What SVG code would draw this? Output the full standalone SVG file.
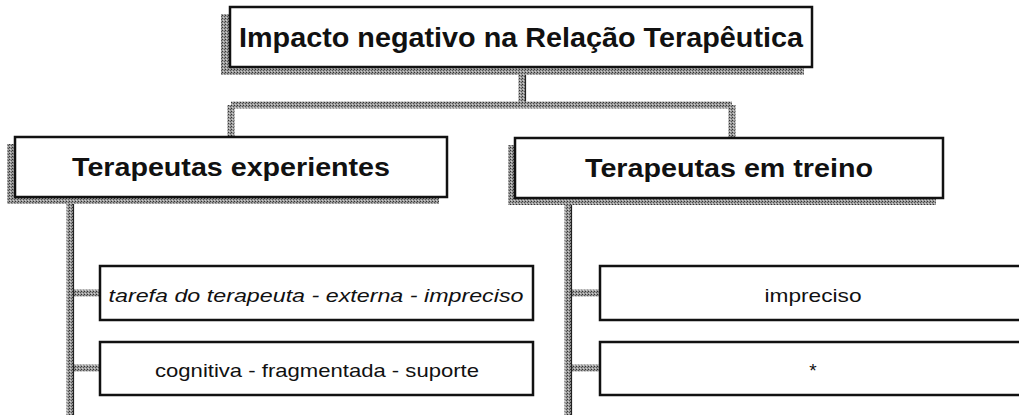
<svg xmlns="http://www.w3.org/2000/svg" width="1019" height="415" viewBox="0 0 1019 415">
<style>
.box{fill:#fff;stroke:#111;stroke-width:2.5}
.sh{fill:url(#ht)}
.t1{font-family:"Liberation Sans",Arial,sans-serif;font-weight:bold;font-size:28px;fill:#111;text-anchor:middle}
.t2{font-family:"Liberation Sans",Arial,sans-serif;font-weight:bold;font-size:26px;fill:#111;text-anchor:middle}
.t3{font-family:"Liberation Sans",Arial,sans-serif;font-size:19px;fill:#111;text-anchor:middle}
.it{font-style:italic}
.cn{stroke:url(#ht);stroke-width:7;fill:none}
.ce{stroke:#222;stroke-width:1.2;fill:none}
</style>
<defs>
<pattern id="ht" width="3" height="3" patternUnits="userSpaceOnUse">
<rect width="3" height="3" fill="#9a9a9a"/>
<rect x="0" y="0" width="1" height="1" fill="#333"/>
<rect x="2" y="1" width="1" height="1" fill="#555"/>
<rect x="1" y="2" width="1" height="1" fill="#d0d0d0"/>
</pattern>
</defs>
<g id="connectors">
<path class="cn" d="M522 68 V105 M231 105 H732 M231 105 V137 M732 105 V138"/>
<path class="cn" d="M70 204 V415 M70 293 H100 M70 368 H100"/>
<path class="cn" d="M568 205 V415 M568 293 H600 M568 368 H600"/>
<path class="ce" d="M525.5 68 V101.5 M73.5 204 V415 M571.5 205 V415"/>
</g>
<g id="n-root">
<rect class="sh" x="221" y="14" width="583" height="61"/>
<rect class="box" x="230" y="7" width="582" height="60"/>
<text class="t1" x="521" y="47" textLength="564" lengthAdjust="spacingAndGlyphs">Impacto negativo na Relação Terapêutica</text>
</g>
<g id="n-experientes">
<rect class="sh" x="7" y="144" width="432" height="60"/>
<rect class="box" x="15" y="137" width="432" height="60"/>
<text class="t2" x="231" y="176" textLength="318" lengthAdjust="spacingAndGlyphs">Terapeutas experientes</text>
</g>
<g id="n-treino">
<rect class="sh" x="508" y="145" width="428" height="60"/>
<rect class="box" x="515" y="138" width="428" height="60"/>
<text class="t2" x="729" y="177" textLength="288" lengthAdjust="spacingAndGlyphs">Terapeutas em treino</text>
</g>
<g id="n-e1">
<rect class="box" x="100" y="266" width="433" height="54"/>
<text class="t3 it" x="316" y="302" textLength="415" lengthAdjust="spacingAndGlyphs">tarefa do terapeuta - externa - impreciso</text>
</g>
<g id="n-e2">
<rect class="box" x="100" y="342" width="433" height="53"/>
<text class="t3" x="317" y="377" textLength="324" lengthAdjust="spacingAndGlyphs">cognitiva - fragmentada - suporte</text>
</g>
<g id="n-t1">
<rect class="box" x="600" y="266" width="440" height="54"/>
<text class="t3" x="813" y="302" textLength="97" lengthAdjust="spacingAndGlyphs">impreciso</text>
</g>
<g id="n-t2">
<rect class="box" x="600" y="342" width="440" height="53"/>
<text class="t3" x="813" y="377">*</text>
</g>
</svg>
